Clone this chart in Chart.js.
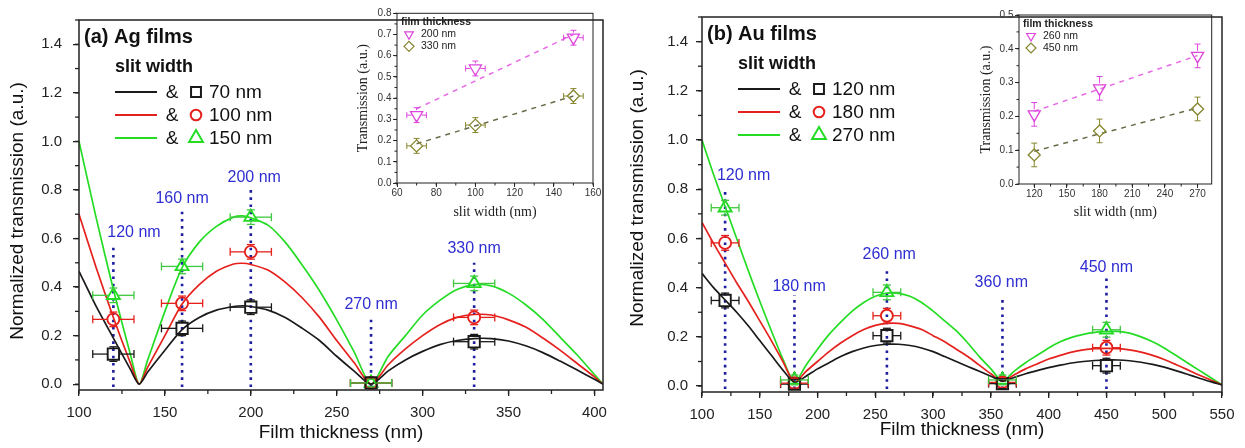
<!DOCTYPE html>
<html>
<head>
<meta charset="utf-8">
<script src="https://cdn.jsdelivr.net/npm/chart.js@4.4.1/dist/chart.umd.min.js"></script>
<style>
  html, body { margin: 0; padding: 0; background: #fff; }
  body { position: relative; width: 1245px; height: 448px; overflow: hidden; }
  .panel { position: absolute; }
</style>
</head>
<body>
<div class="panel" style="left:0;top:0;width:620px;height:448px"><canvas id="ag"></canvas></div>
<div class="panel" style="left:620px;top:0;width:625px;height:448px"><canvas id="au"></canvas></div>
<div class="panel" style="left:340px;top:5px;width:265px;height:220px"><canvas id="agInset"></canvas></div>
<div class="panel" style="left:940px;top:5px;width:280px;height:222px"><canvas id="auInset"></canvas></div>
<script>
// ---------- (a) Ag films ----------
const agThickness = [120, 160, 200, 270, 330];
const agSlit70  = [0.124, 0.23, 0.317, 0.005, 0.175];
const agSlit100 = [0.267, 0.333, 0.545, 0.005, 0.275];
const agSlit150 = [0.366, 0.485, 0.688, 0.005, 0.415];
const agErrY    = [0.03, 0.03, 0.03, 0.015, 0.03];

const agCurveX   = [100, 110, 120, 130, 135, 140, 150, 160, 170, 180, 190, 195, 200, 210, 220, 230, 240, 250, 260, 270, 280, 290, 300, 310, 320, 330, 340, 350, 360, 370, 380, 390, 400, 405];
const agCurve70  = [0.465, 0.32, 0.19, 0.06, 0, 0.05, 0.14, 0.225, 0.275, 0.305, 0.32, 0.323, 0.32, 0.305, 0.275, 0.23, 0.18, 0.115, 0.055, 0, 0.055, 0.1, 0.135, 0.163, 0.18, 0.188, 0.188, 0.178, 0.158, 0.13, 0.095, 0.058, 0.02, 0];
const agCurve100 = [0.70, 0.48, 0.275, 0.085, 0, 0.07, 0.2, 0.33, 0.41, 0.465, 0.495, 0.498, 0.493, 0.47, 0.42, 0.355, 0.275, 0.18, 0.09, 0, 0.08, 0.145, 0.2, 0.245, 0.275, 0.287, 0.285, 0.265, 0.235, 0.19, 0.14, 0.085, 0.03, 0];
const agCurve150 = [1.0, 0.685, 0.39, 0.12, 0, 0.1, 0.3, 0.48, 0.585, 0.65, 0.688, 0.693, 0.685, 0.655, 0.585, 0.49, 0.385, 0.265, 0.135, 0, 0.115, 0.2, 0.285, 0.345, 0.39, 0.41, 0.405, 0.375, 0.327, 0.267, 0.194, 0.12, 0.04, 0];

const agGuideX      = [120, 160, 200, 270, 330];
const agGuideTop    = [0.578, 0.71, 0.80, 0.274, 0.50];
const agGuideLabelX = [132, 160, 202, 270, 330];
const agGuideLabelY = [0.624, 0.763, 0.849, 0.327, 0.56];

// inset (a)
const agInsetSlit  = [70, 100, 150];
const agInset200   = [0.32, 0.54, 0.685];
const agInset330   = [0.175, 0.273, 0.41];
const agInsetFitX  = [70, 150];
const agInsetFit200 = [0.35, 0.70];
const agInsetFit330 = [0.185, 0.41];

// ---------- (b) Au films ----------
const auThickness = [120, 180, 260, 360, 450];
const auSlit120 = [0.348, 0.008, 0.205, 0.01, 0.083];
const auSlit180 = [0.582, 0.012, 0.286, 0.015, 0.156];
const auSlit270 = [0.725, 0.025, 0.381, 0.025, 0.229];
const auErrY    = [0.03, 0.02, 0.03, 0.02, 0.03];

const auCurveX   = [100, 110, 120, 130, 140, 150, 160, 170, 180, 190, 200, 210, 220, 230, 240, 250, 260, 270, 280, 290, 300, 310, 320, 330, 340, 350, 360, 370, 380, 390, 400, 410, 420, 430, 440, 450, 460, 470, 480, 490, 500, 510, 520, 530, 540, 550];
const auCurve120 = [0.458, 0.40, 0.35, 0.30, 0.245, 0.185, 0.125, 0.065, 0.015, 0.04, 0.07, 0.095, 0.12, 0.14, 0.155, 0.165, 0.17, 0.17, 0.165, 0.155, 0.14, 0.12, 0.10, 0.08, 0.06, 0.04, 0.02, 0.035, 0.05, 0.063, 0.075, 0.085, 0.094, 0.1, 0.104, 0.106, 0.106, 0.103, 0.097, 0.088, 0.077, 0.063, 0.048, 0.033, 0.018, 0.005];
const auCurve180 = [0.665, 0.58, 0.50, 0.42, 0.345, 0.265, 0.185, 0.10, 0.015, 0.06, 0.10, 0.14, 0.175, 0.205, 0.23, 0.247, 0.255, 0.255, 0.245, 0.23, 0.205, 0.18, 0.15, 0.12, 0.085, 0.05, 0.02, 0.045, 0.07, 0.09, 0.11, 0.125, 0.138, 0.147, 0.152, 0.153, 0.152, 0.147, 0.138, 0.125, 0.108, 0.088, 0.067, 0.045, 0.025, 0.005];
const auCurve270 = [1.0, 0.86, 0.73, 0.60, 0.47, 0.345, 0.225, 0.11, 0.015, 0.085, 0.15, 0.21, 0.26, 0.305, 0.34, 0.365, 0.378, 0.377, 0.365, 0.34, 0.305, 0.265, 0.225, 0.175, 0.12, 0.07, 0.02, 0.06, 0.095, 0.125, 0.155, 0.18, 0.198, 0.21, 0.218, 0.222, 0.222, 0.215, 0.2, 0.18, 0.155, 0.125, 0.095, 0.065, 0.035, 0.005];

const auGuideX      = [120, 180, 260, 360, 450];
const auGuideTop    = [0.80, 0.37, 0.48, 0.35, 0.445];
const auGuideLabelX = [136, 184, 262, 359, 450];
const auGuideLabelY = [0.857, 0.404, 0.533, 0.42, 0.48];

// inset (b)
const auInsetSlit  = [120, 180, 270];
const auInset260   = [0.206, 0.283, 0.379];
const auInset450   = [0.086, 0.157, 0.222];
const auInsetFitX  = [120, 270];
const auInsetFit260 = [0.215, 0.38];
const auInsetFit450 = [0.097, 0.225];

const thicknessErr = 12;   // nm, horizontal error on main panels
const insetErrY = 0.035;
const agInsetErrX = 5;

// ---------- styling ----------
const SANS = 'Arial, "Liberation Sans", Helvetica, sans-serif';
const SERIF = '"Times New Roman", "Liberation Serif", serif';
const BLACK = '#1a1a1a', RED = '#e5211d', GREEN = '#25dc25', GREEN_ERR = '#40c840';
const GUIDE = '#1d1da0', GUIDE_TEXT = '#2e2ed2';
const MAGENTA = '#dd45dd', OLIVE = '#85852e', MAG_FIT = '#e86ae8', OLIVE_FIT = '#6a6a48';
const AXIS = '#222';

Chart.defaults.font.family = SANS;

function seg(ctx, x1, y1, x2, y2) {
  ctx.beginPath(); ctx.moveTo(x1, y1); ctx.lineTo(x2, y2); ctx.stroke();
}

function marker(ctx, style, x, y, radius, rotation, color, lw) {
  ctx.save();
  ctx.strokeStyle = color;
  ctx.fillStyle = 'rgba(0,0,0,0)';
  ctx.lineWidth = lw;
  Chart.helpers.drawPoint(ctx, { pointStyle: style, radius: radius, rotation: rotation, borderWidth: lw }, x, y);
  ctx.restore();
}

function minorTicks(ctx, scale, step, len, horizontal, a) {
  const first = Math.ceil(scale.min / step - 1e-9);
  for (let k = first; k * step <= scale.max + 1e-9; k++) {
    const p = scale.getPixelForValue(k * step);
    if (horizontal) seg(ctx, p, a.bottom, p, a.bottom + len);
    else seg(ctx, a.left, p, a.left - len, p);
  }
}

// error bars, frame, minor ticks, labels and legend
function makeDecor(d) {
  return {
    id: 'decor',
    afterDatasetsDraw(chart) {
      const ctx = chart.ctx, sx = chart.scales.x, sy = chart.scales.y;
      ctx.save();
      ctx.lineWidth = d.errWidth;
      chart.data.datasets.forEach((ds, i) => {
        if (!ds.errY) return;
        ctx.strokeStyle = ds.errColor;
        const g = ds.errGap, c = d.cap;
        chart.getDatasetMeta(i).data.forEach((el, j) => {
          const p = ds.data[j], x = el.x, y = el.y;
          const e = Array.isArray(ds.errY) ? ds.errY[j] : ds.errY;
          const yT = sy.getPixelForValue(p.y + e), yB = sy.getPixelForValue(p.y - e);
          if (yT < y - g) seg(ctx, x, y - g, x, yT);
          if (yB > y + g) seg(ctx, x, y + g, x, yB);
          seg(ctx, x - c, yT, x + c, yT);
          seg(ctx, x - c, yB, x + c, yB);
          if (ds.errX) {
            const xL = sx.getPixelForValue(p.x - ds.errX), xR = sx.getPixelForValue(p.x + ds.errX);
            seg(ctx, x - g, y, xL, y);
            seg(ctx, x + g, y, xR, y);
            seg(ctx, xL, y - c, xL, y + c);
            seg(ctx, xR, y - c, xR, y + c);
          }
        });
      });
      ctx.restore();
    },
    afterDraw(chart) {
      const ctx = chart.ctx, a = chart.chartArea, sx = chart.scales.x, sy = chart.scales.y;
      ctx.save();
      ctx.strokeStyle = AXIS;
      ctx.lineWidth = d.frameWidth;
      ctx.strokeRect(a.left, a.top, a.right - a.left, a.bottom - a.top);
      ctx.lineWidth = d.tickWidth;
      minorTicks(ctx, sx, d.minorX, d.minorLen, true, a);
      minorTicks(ctx, sy, d.minorY, d.minorLen, false, a);

      // blue thickness labels
      (d.labels || []).forEach(l => {
        ctx.font = '16px ' + SANS;
        ctx.fillStyle = GUIDE_TEXT;
        ctx.textAlign = 'center';
        ctx.textBaseline = 'middle';
        ctx.fillText(l.text, sx.getPixelForValue(l.x), sy.getPixelForValue(l.y));
      });

      // y title
      if (d.yTitle) {
        ctx.save();
        ctx.translate(d.yTitle.x, d.yTitle.y);
        ctx.rotate(-Math.PI / 2);
        ctx.font = '19px ' + SANS;
        ctx.fillStyle = '#111';
        ctx.textAlign = 'center';
        ctx.textBaseline = 'middle';
        ctx.fillText(d.yTitle.text, 0, 0);
        ctx.restore();
      }

      // main legend
      const lg = d.legend;
      if (lg) {
        const L = a.left, T = a.top;
        ctx.fillStyle = '#111';
        ctx.textBaseline = 'middle';
        ctx.textAlign = 'left';
        ctx.font = 'bold 20px ' + SANS;
        ctx.fillText(lg.title, L + 5, T + 17);
        ctx.font = 'bold 18px ' + SANS;
        ctx.fillText(lg.sub, L + 36, T + 47);
        lg.rows.forEach((r, i) => {
          const y = T + 72 + i * 23;
          ctx.strokeStyle = r.color;
          ctx.lineWidth = 2;
          seg(ctx, L + 36, y, L + 78, y);
          ctx.font = '19px ' + SANS;
          ctx.fillStyle = '#111';
          ctx.textAlign = 'center';
          ctx.fillText('&', L + 93, y + 1);
          marker(ctx, r.style, L + 117, y, r.legendRadius, r.rotation || 0, r.color, 2);
          ctx.textAlign = 'left';
          ctx.fillText(r.label, L + 130, y + 1);
        });
      }

      // inset legend
      const il = d.insetLegend;
      if (il) {
        const L = a.left, T = a.top;
        ctx.fillStyle = '#222';
        ctx.textBaseline = 'middle';
        ctx.textAlign = 'left';
        ctx.font = 'bold 10.5px ' + SANS;
        ctx.fillText('film thickness', L + 4, T + 9);
        il.forEach((r, i) => {
          const y = T + 21 + i * 12;
          marker(ctx, r.style, L + 12, y, 5, r.rotation || 0, r.color, 1.2);
          ctx.font = '10.5px ' + SANS;
          ctx.fillStyle = '#222';
          ctx.fillText(r.label, L + 24, y);
        });
      }
      ctx.restore();
    }
  };
}

function xy(xs, ys) { return xs.map((x, i) => ({ x: x, y: ys[i] })); }

function mainChart(id, o) {
  const datasets = [];
  o.guideX.forEach((gx, i) => datasets.push({
    type: 'line', data: [{ x: gx, y: -0.012 }, { x: gx, y: o.guideTop[i] }],
    borderColor: GUIDE, borderWidth: 2.6, borderDash: [2.6, 4.6], pointRadius: 0, order: 6
  }));
  o.series.forEach(s => {
    datasets.push({
      type: 'line', data: xy(o.curveX, s.curve), borderColor: s.color, borderWidth: 1.7,
      pointRadius: 0, tension: 0.25, fill: false, order: 4
    });
    datasets.push({
      type: 'scatter', data: xy(o.thickness, s.values), pointStyle: s.style,
      pointRadius: s.radius, pointRotation: 0, pointBorderColor: s.color,
      pointBackgroundColor: 'rgba(0,0,0,0)', pointBorderWidth: 1.9,
      errY: o.errY, errX: thicknessErr, errColor: s.errColor || s.color, errGap: s.gap, order: 1
    });
  });
  return new Chart(document.getElementById(id), {
    type: 'scatter',
    data: { datasets },
    options: {
      animation: false, responsive: true, maintainAspectRatio: false, events: [],
      layout: { padding: { top: o.padTop, right: o.padRight, left: 0, bottom: 0 } },
      plugins: { legend: { display: false }, tooltip: { enabled: false } },
      scales: {
        x: {
          type: 'linear', min: o.xMin, max: o.xMax,
          afterFit: s => { s.height = o.xHeight; },
          ticks: { stepSize: 50, includeBounds: false, padding: 8, color: AXIS, maxRotation: 0, autoSkip: false, font: { size: 15 } },
          grid: { drawOnChartArea: false, tickLength: 6, color: AXIS, lineWidth: 1.3 },
          border: { display: false },
          title: { display: true, text: 'Film thickness (nm)', color: '#111', font: { size: 19 }, padding: { top: 0, bottom: o.xTitlePad } }
        },
        y: {
          type: 'linear', min: -0.024, max: 1.5,
          afterFit: s => { s.width = o.yWidth; },
          ticks: { stepSize: 0.2, includeBounds: false, padding: o.yTickPad, color: AXIS, font: { size: 15 }, callback: v => v.toFixed(1) },
          grid: { drawOnChartArea: false, tickLength: 6, color: AXIS, lineWidth: 1.3 },
          border: { display: false },
          title: { display: false }
        }
      }
    },
    plugins: [makeDecor({
      errWidth: 1.3, cap: 4, frameWidth: 1.5, tickWidth: 1.3, minorX: 25, minorY: 0.1, minorLen: 4,
      labels: o.guideX.map((g, i) => ({ text: g + ' nm', x: o.guideLabelX[i], y: o.guideLabelY[i] })),
      yTitle: { text: 'Normalized transmission (a.u.)', x: o.yTitleX, y: o.yTitleY },
      legend: { title: o.title, sub: 'slit width', rows: o.series }
    })]
  });
}

function insetChart(id, o) {
  const datasets = [];
  o.sets.forEach(s => {
    datasets.push({
      type: 'line', data: xy(o.fitX, s.fit), borderColor: s.fitColor, borderWidth: 1.5,
      borderDash: [5, 5], pointRadius: 0, order: 4
    });
    datasets.push({
      type: 'scatter', data: xy(o.slit, s.values), pointStyle: s.style, pointRotation: s.rotation || 0,
      pointRadius: s.radius, pointBorderColor: s.color, pointBackgroundColor: 'rgba(0,0,0,0)',
      pointBorderWidth: 1.3, errY: insetErrY, errX: o.errX, errColor: s.color, errGap: s.gap, order: 1
    });
  });
  return new Chart(document.getElementById(id), {
    type: 'scatter',
    data: { datasets },
    options: {
      animation: false, responsive: true, maintainAspectRatio: false, events: [],
      layout: { padding: { top: o.padTop, right: o.padRight, left: 0, bottom: 0 } },
      plugins: { legend: { display: false }, tooltip: { enabled: false } },
      scales: {
        x: {
          type: 'linear', min: o.xMin, max: o.xMax,
          afterFit: s => { s.height = o.xHeight; },
          ticks: { stepSize: o.xStep, includeBounds: false, padding: 0, color: '#333', maxRotation: 0, autoSkip: false, font: { size: 10 } },
          grid: { drawOnChartArea: false, tickLength: 4, color: '#333', lineWidth: 1 },
          border: { display: false },
          title: { display: true, text: 'slit width (nm)', color: '#222', font: { family: SERIF, size: 14 }, padding: { top: 0, bottom: o.xTitlePad } }
        },
        y: {
          type: 'linear', min: 0, max: o.yMax,
          afterFit: s => { s.width = o.yWidth; },
          ticks: { stepSize: 0.1, includeBounds: false, padding: 1.5, color: '#333', font: { size: 10 }, callback: v => v.toFixed(1) },
          grid: { drawOnChartArea: false, tickLength: 4, color: '#333', lineWidth: 1 },
          border: { display: false },
          title: { display: true, text: 'Transmission (a.u.)', color: '#222', font: { family: SERIF, size: 14 }, padding: { top: o.yTitlePad, bottom: 0 } }
        }
      }
    },
    plugins: [makeDecor({
      errWidth: 1, cap: 3, frameWidth: 1, tickWidth: 1, minorX: o.xStep / 2, minorY: 0.05, minorLen: 2.5,
      insetLegend: o.sets
    })]
  });
}

mainChart('ag', {
  title: '(a) Ag films',
  xMin: 100, xMax: 405, padTop: 6, padRight: 17, xHeight: 58, yWidth: 79,
  yTickPad: 11, xTitlePad: 4, yTitleX: 18, yTitleY: 211,
  thickness: agThickness, errY: agErrY, curveX: agCurveX,
  guideX: agGuideX, guideTop: agGuideTop, guideLabelX: agGuideLabelX, guideLabelY: agGuideLabelY,
  series: [
    { label: '70 nm',  values: agSlit70,  curve: agCurve70,  color: BLACK, style: 'rect',     radius: 8,   gap: 6, legendRadius: 7 },
    { label: '100 nm', values: agSlit100, curve: agCurve100, color: RED,   style: 'circle',   radius: 6,   gap: 6, legendRadius: 5.3 },
    { label: '150 nm', values: agSlit150, curve: agCurve150, color: GREEN, style: 'triangle', radius: 7.5, gap: 5, legendRadius: 8, errColor: GREEN_ERR }
  ]
});

mainChart('au', {
  title: '(b) Au films',
  xMin: 100, xMax: 550, padTop: 7, padRight: 23, xHeight: 56, yWidth: 82,
  yTickPad: 8, xTitlePad: 7, yTitleX: 18, yTitleY: 198,
  thickness: auThickness, errY: auErrY, curveX: auCurveX,
  guideX: auGuideX, guideTop: auGuideTop, guideLabelX: auGuideLabelX, guideLabelY: auGuideLabelY,
  series: [
    { label: '120 nm', values: auSlit120, curve: auCurve120, color: BLACK, style: 'rect',     radius: 8,   gap: 6, legendRadius: 7 },
    { label: '180 nm', values: auSlit180, curve: auCurve180, color: RED,   style: 'circle',   radius: 6,   gap: 6, legendRadius: 5.3 },
    { label: '270 nm', values: auSlit270, curve: auCurve270, color: GREEN, style: 'triangle', radius: 7.5, gap: 5, legendRadius: 8, errColor: GREEN_ERR }
  ]
});

insetChart('agInset', {
  xMin: 60, xMax: 160, xStep: 20, yMax: 0.8, padTop: 8, padRight: 12, xHeight: 42, yWidth: 57,
  xTitlePad: 4.5, yTitlePad: 15, errX: agInsetErrX,
  slit: agInsetSlit, fitX: agInsetFitX,
  sets: [
    { label: '200 nm', values: agInset200, fit: agInsetFit200, color: MAGENTA, fitColor: MAG_FIT, style: 'triangle', rotation: 180, radius: 7, gap: 5 },
    { label: '330 nm', values: agInset330, fit: agInsetFit330, color: OLIVE, fitColor: OLIVE_FIT, style: 'rectRot', radius: 6, gap: 6 }
  ]
});

insetChart('auInset', {
  xMin: 106, xMax: 283, xStep: 30, yMax: 0.5, padTop: 10, padRight: 8, xHeight: 43, yWidth: 79,
  xTitlePad: 6.5, yTitlePad: 38, errX: 0,
  slit: auInsetSlit, fitX: auInsetFitX,
  sets: [
    { label: '260 nm', values: auInset260, fit: auInsetFit260, color: MAGENTA, fitColor: MAG_FIT, style: 'triangle', rotation: 180, radius: 7, gap: 5 },
    { label: '450 nm', values: auInset450, fit: auInsetFit450, color: OLIVE, fitColor: OLIVE_FIT, style: 'rectRot', radius: 6, gap: 6 }
  ]
});
</script>
</body>
</html>
